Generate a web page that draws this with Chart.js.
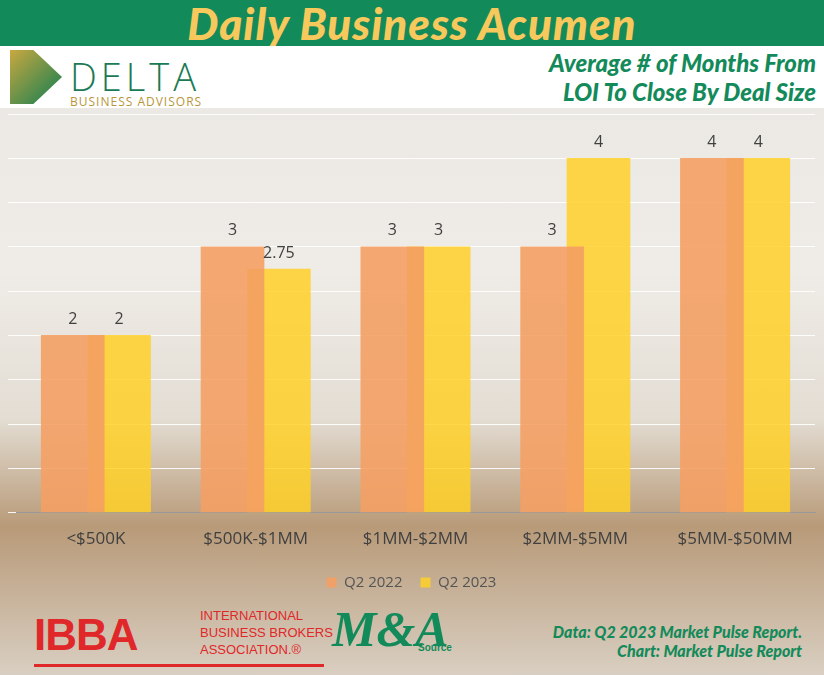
<!DOCTYPE html>
<html>
<head>
<meta charset="utf-8">
<script src="https://cdn.jsdelivr.net/npm/chart.js@4/dist/chart.umd.min.js"></script>
<style>
body { margin:0; width:824px; height:675px; overflow:hidden; font-family:"Open Sans",sans-serif; }
#page { position:relative; width:824px; height:675px;
  background: linear-gradient(180deg,#e9e7e3 0%,#efece7 40%,#e3ddd3 62%,#b89a78 78%,#d9cfc2 100%); }
#hdr { position:absolute; left:0; top:0; width:824px; height:46px; background:#138a5a;
  color:#f7c85c; font:italic 900 44px Lato,sans-serif; text-align:center; line-height:46px; letter-spacing:1px; }
#band { position:absolute; left:0; top:46px; width:824px; height:62px; background:#fff; }
#logo { position:absolute; left:10px; top:50px; width:52px; height:54px; background:linear-gradient(135deg,#c9a840,#0f7d52); clip-path:polygon(0 0,45% 0,100% 50%,45% 100%,0 100%); }
#delta { position:absolute; left:70px; top:50px; font:300 38px "Open Sans",sans-serif; color:#1a7a55; letter-spacing:4px; }
#adv { position:absolute; left:70px; top:93px; font:12px "Open Sans",sans-serif; color:#b8963a; letter-spacing:1px; }
#sub { position:absolute; right:8px; top:48px; text-align:right; font:italic 900 24px Lato,sans-serif; color:#138a5a; line-height:29px; }
#c { position:absolute; left:0; top:108px; }
#ibba { position:absolute; left:34px; top:610px; font:900 44px "Liberation Sans",sans-serif; color:#e0282a; letter-spacing:-1px; }
#ibbat { position:absolute; left:200px; top:607px; font:13px "Liberation Sans",sans-serif; color:#e0282a; line-height:17px; }
#ibline { position:absolute; left:34px; top:664px; width:290px; height:3px; background:#e0282a; }
#ma { position:absolute; left:332px; top:600px; font:900 italic 50px "Liberation Serif",serif; color:#138a5a; }
#src { position:absolute; left:418px; top:642px; font:bold 10px sans-serif; color:#138a5a; }
#data { position:absolute; right:22px; top:622px; text-align:right; font:italic 900 16px Lato,sans-serif; color:#138a5a; line-height:19px; }
</style>
</head>
<body>
<div id="page">
<div id="hdr">Daily Business Acumen</div>
<div id="band"></div>
<div id="logo"></div>
<div id="delta">DELTA</div>
<div id="adv">BUSINESS ADVISORS</div>
<div id="sub">Average # of Months From<br>LOI To Close By Deal Size</div>
<canvas id="c" width="824" height="492"></canvas>
<div id="ibba">IBBA</div>
<div id="ibbat">INTERNATIONAL<br>BUSINESS BROKERS<br>ASSOCIATION.®</div>
<div id="ibline"></div>
<div id="ma">M&amp;A</div>
<div id="src">Source</div>
<div id="data">Data: Q2 2023 Market Pulse Report.<br>Chart: Market Pulse Report</div>
</div>
<script>
var categories = ["<$500K", "$500K-$1MM", "$1MM-$2MM", "$2MM-$5MM", "$5MM-$50MM"];
var q2022 = [2, 3, 3, 3, 4];
var q2023 = [2, 2.75, 3, 4, 4];
var shift = 0.145;

function pts(vals, off) {
    return vals.map(function (v, i) { return { x: i + off, y: v }; });
}

var valueLabels = {
    id: 'valueLabels',
    afterDatasetsDraw: function (chart) {
        var ctx = chart.ctx;
        ctx.save();
        ctx.font = '16px "Open Sans"';
        ctx.fillStyle = '#404040';
        ctx.textAlign = 'center';
        chart.data.datasets.forEach(function (ds, di) {
            chart.getDatasetMeta(di).data.forEach(function (bar, i) {
                ctx.fillText(ds.data[i].y, bar.x, bar.y - 16);
            });
        });
        ctx.restore();
    }
};

new Chart(document.getElementById("c"), {
    type: 'bar',
    data: {
        datasets: [
            { label: 'Q2 2022', data: pts(q2022, -shift), backgroundColor: 'rgba(244,160,100,0.9)', grouped: false, barThickness: 63 },
            { label: 'Q2 2023', data: pts(q2023, shift), backgroundColor: 'rgba(255,208,40,0.85)', grouped: false, barThickness: 63 }
        ]
    },
    options: {
        responsive: false,
        animation: false,
        layout: { padding: { left: 8, right: 9, top: 6, bottom: 0 } },
        scales: {
            x: {
                type: 'linear', min: -0.5, max: 4.5, offset: false,
                grid: { display: false },
                border: { color: '#999' },
                afterBuildTicks: function (axis) {
                    axis.ticks = categories.map(function (c, i) { return { value: i }; });
                },
                ticks: {
                    color: '#404040', font: { size: 17, family: 'Open Sans' }, padding: 8,
                    maxRotation: 0, autoSkip: false,
                    callback: function (v) { return categories[v]; }
                }
            },
            y: {
                min: 0, max: 4.5,
                ticks: { display: false, stepSize: 0.5 },
                grid: { color: 'rgba(255,255,255,0.9)', lineWidth: 1 },
                border: { display: false }
            }
        },
        plugins: {
            legend: {
                position: 'bottom',
                labels: { boxWidth: 10, boxHeight: 10, color: '#555', font: { size: 15, family: 'Open Sans' }, padding: 18 }
            },
            tooltip: { enabled: false }
        }
    },
    plugins: [valueLabels]
});
</script>
</body>
</html>
